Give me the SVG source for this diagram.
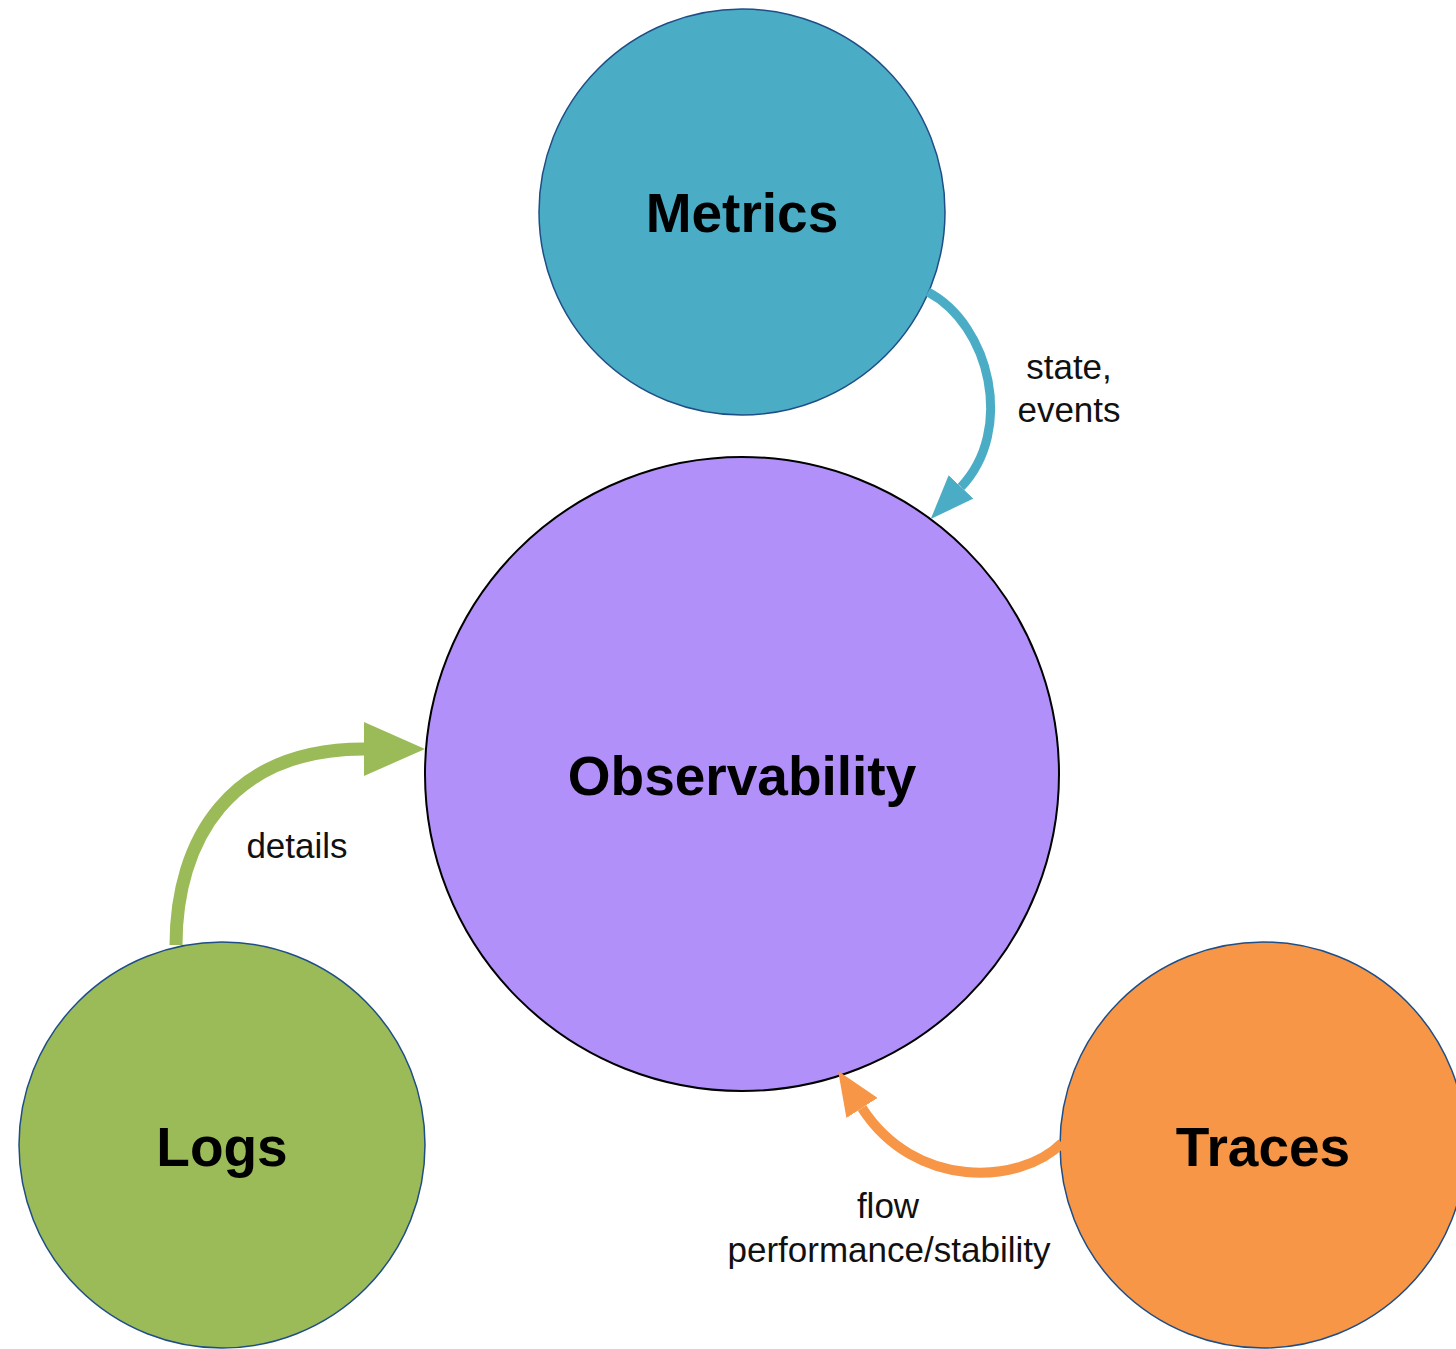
<svg xmlns="http://www.w3.org/2000/svg" width="1456" height="1349" viewBox="0 0 1456 1349">
  <style>
    .node { stroke: #1f4e86; stroke-width: 1.5; }
    .title { font-family: "Liberation Sans", Arial, sans-serif; font-weight: bold; font-size: 55px; fill: #000; text-anchor: middle; }
    .label { font-family: "Liberation Sans", Arial, sans-serif; font-size: 35px; fill: #111; text-anchor: middle; }
    .conn { fill: none; }
  </style>
  <defs>
    <marker id="arrBlue" markerUnits="userSpaceOnUse" viewBox="0 0 44 34" refX="0" refY="17" markerWidth="44" markerHeight="34" orient="auto">
      <path d="M0,0 L44,17 L0,34 Z" fill="#4BACC6"/>
    </marker>
    <marker id="arrGreen" markerUnits="userSpaceOnUse" viewBox="0 0 61 54" refX="0" refY="27" markerWidth="61" markerHeight="54" orient="auto">
      <path d="M0,0 L61,27 L0,54 Z" fill="#9BBB59"/>
    </marker>
    <marker id="arrOrange" markerUnits="userSpaceOnUse" viewBox="0 0 44 37" refX="0" refY="18.5" markerWidth="44" markerHeight="37" orient="auto">
      <path d="M0,0 L44,18.5 L0,37 Z" fill="#F79646"/>
    </marker>
  </defs>

  <g id="node-observability">
    <circle cx="742" cy="774" r="317" fill="#B290F9" stroke="#000" stroke-width="2"/>
    <text class="title" x="742" y="795">Observability</text>
  </g>
  <g id="node-metrics">
    <circle class="node" cx="742" cy="212" r="203" fill="#4BACC6"/>
    <text class="title" x="742" y="232">Metrics</text>
  </g>
  <g id="node-logs">
    <circle class="node" cx="222" cy="1145" r="203" fill="#9BBB59"/>
    <text class="title" x="222" y="1166">Logs</text>
  </g>
  <g id="node-traces">
    <circle class="node" cx="1263" cy="1145" r="203" fill="#F79646"/>
    <text class="title" x="1263" y="1166">Traces</text>
  </g>

  <g id="connectors">
    <path class="conn" d="M928,292 C990,325 1015,430 961,487" stroke="#4BACC6" stroke-width="9" marker-end="url(#arrBlue)"/>
    <path class="conn" d="M176,945 C176,840 230,749 364,749" stroke="#9BBB59" stroke-width="13" marker-end="url(#arrGreen)"/>
    <path class="conn" d="M1062,1143 C1020,1185 915,1190 862,1108" stroke="#F79646" stroke-width="10" marker-end="url(#arrOrange)"/>
    <text class="label" x="1069" y="379">state,</text>
    <text class="label" x="1069" y="422">events</text>
    <text class="label" x="297" y="858">details</text>
    <text class="label" x="888" y="1218">flow</text>
    <text class="label" x="889" y="1262">performance/stability</text>
  </g>
</svg>
